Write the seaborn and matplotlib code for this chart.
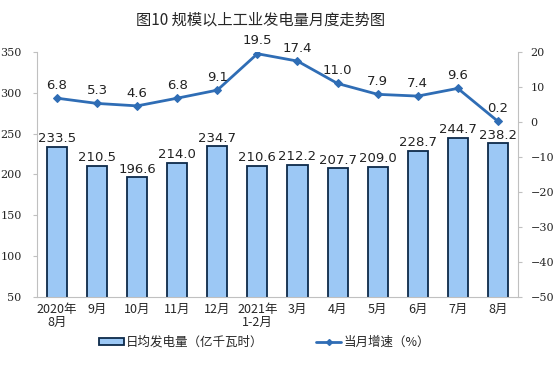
import numpy as np
import pandas as pd
import seaborn as sns
import matplotlib.pyplot as plt
from matplotlib.patches import Patch
from matplotlib.lines import Line2D

months = ['2020年\n8月', '9月', '10月', '11月', '12月', '2021年\n1-2月',
          '3月', '4月', '5月', '6月', '7月', '8月']
daily_output = [233.5, 210.5, 196.6, 214.0, 234.7, 210.6, 212.2, 207.7, 209.0, 228.7, 244.7, 238.2]
growth = [6.8, 5.3, 4.6, 6.8, 9.1, 19.5, 17.4, 11.0, 7.9, 7.4, 9.6, 0.2]

sns.set_style('white')
plt.rcParams['font.family'] = ['Noto Sans CJK SC', 'DejaVu Sans']

df = pd.DataFrame({'month': months, 'output': daily_output, 'growth': growth})
df['x'] = np.arange(len(df))

fig = plt.figure(figsize=(5.56, 3.74), dpi=100)
ax = fig.add_axes([0.0665, 0.206, 0.865, 0.655])

bar_col = '#9cc8f5'
edge_col = '#0d2a4a'
line_col = '#2f6db5'
spine_col = '#c0c0c0'

sns.barplot(data=df, x='x', y='output', ax=ax, color=bar_col, edgecolor=edge_col,
            linewidth=1.3, width=0.5, saturation=1)
ax.set_ylim(50, 350)
ax.set_yticks(range(50, 351, 50))
ax.set_xlim(-0.5, len(df) - 0.5)
ax.set_xticks(df['x'])
ax.set_xticklabels(months, fontsize=9, linespacing=1.05)
ax.set_xticks(np.arange(-0.5, len(df), 1), minor=True)
ax.set_xlabel('')
ax.set_ylabel('')
for lab in ax.get_yticklabels():
    lab.set_fontfamily('DejaVu Serif')
    lab.set_fontsize(8)

for xi, v in zip(df['x'], daily_output):
    ax.text(xi, v + 2, f'{v:.1f}', ha='center', va='bottom', fontsize=9.5,
            family='DejaVu Sans', color='#222222')

ax2 = ax.twinx()
sns.lineplot(data=df, x='x', y='growth', ax=ax2, color=line_col, linewidth=2,
             marker='D', markersize=4.5, markeredgecolor=line_col)
ax2.set_ylim(-50, 20)
ax2.set_yticks(range(-50, 21, 10))
ax2.set_ylabel('')
ax2.set_xlabel('')
for lab in ax2.get_yticklabels():
    lab.set_fontfamily('DejaVu Serif')
    lab.set_fontsize(8)

for xi, v in zip(df['x'], growth):
    ax2.text(xi, v + 1.8, f'{v:.1f}', ha='center', va='bottom', fontsize=9.5,
             family='DejaVu Sans', color='#222222')

for a in (ax, ax2):
    for s in a.spines.values():
        s.set_visible(False)
ax.spines['bottom'].set_visible(True)
ax.spines['left'].set_visible(True)
ax2.spines['right'].set_visible(True)
for s in (ax.spines['bottom'], ax.spines['left'], ax2.spines['right']):
    s.set_color(spine_col)
    s.set_linewidth(0.8)
ax.tick_params(axis='x', which='major', length=0, pad=4)
ax.tick_params(axis='x', which='minor', direction='in', length=3, color=spine_col)
ax.tick_params(axis='y', direction='out', length=3, color=spine_col, pad=8)
ax2.tick_params(axis='y', direction='out', length=3, color=spine_col, pad=6)

fig.suptitle('图10 规模以上工业发电量月度走势图', x=0.468, y=0.968, fontsize=11)

handles = [Patch(facecolor=bar_col, edgecolor=edge_col, linewidth=1.3),
           Line2D([0], [0], color=line_col, lw=2, marker='D', markersize=3)]
fig.legend(handles, ['日均发电量（亿千瓦时）', '当月增速（%）'], loc='center left',
           bbox_to_anchor=(0.162, 0.085), ncol=2, frameon=False, fontsize=9,
           columnspacing=4.2, handlelength=2.0, handleheight=0.45, handletextpad=0.2,
           borderpad=0.2)

fig.savefig('out.png', dpi=100)
